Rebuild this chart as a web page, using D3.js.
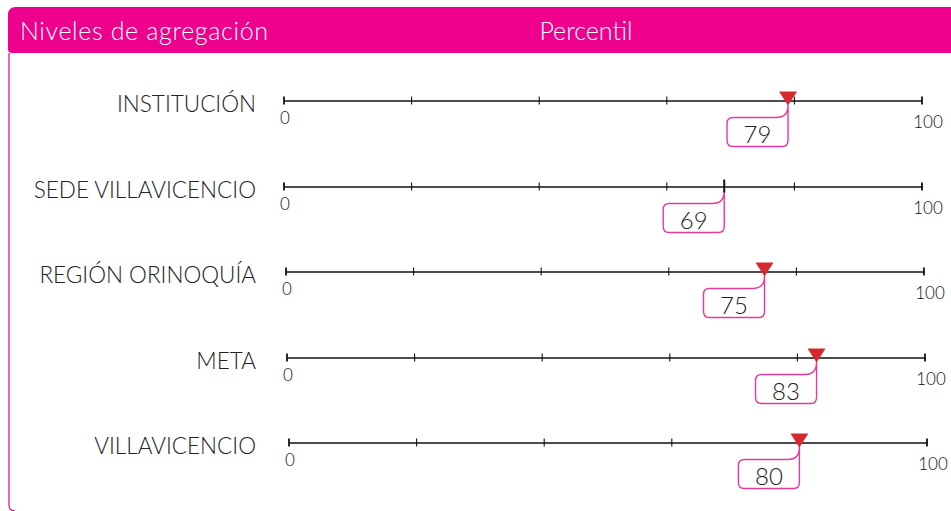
<!DOCTYPE html>
<meta charset="utf-8">
<head>
<style>
  body { margin: 0; background: #fff; }
  svg { display: block; font-family: "Lato", "Open Sans", sans-serif; }
  .lbl { font-size: 22.5px; fill: #222; font-weight: 300; }
  .end { font-size: 17px; fill: #111; font-weight: 300; }
  .num { font-size: 24px; fill: #222; font-weight: 300; }
</style>
</head>
<body>
<script src="https://d3js.org/d3.v7.min.js"></script>
<script>

// data
var niveles = ["INSTITUCIÓN", "SEDE VILLAVICENCIO", "REGIÓN ORINOQUÍA", "META", "VILLAVICENCIO"];
var percentil = [79, 69, 75, 83, 80];
var conTriangulo = [true, false, true, true, true];
var ticks = [0, 20, 40, 60, 80, 100];
var titulos = ["Niveles de agregación", "Percentil"];

var width = 951, height = 511;
var pink = "#ec008c";

var svg = d3.select("body").append("svg")
    .attr("width", width)
    .attr("height", height);

// frame: thin line down the left + header band
svg.append("path")
    .attr("d", "M9,53 L9,505 Q9,511 15,511")
    .attr("fill", "none")
    .attr("stroke", pink)
    .attr("stroke-width", 1.2);

svg.append("path")
    .attr("d", "M8,15 Q8,7 16,7 L951,7 L951,53 L12,53 Q8,53 8,49 Z")
    .attr("fill", pink);

svg.append("text")
    .attr("x", 20).attr("y", 40)
    .attr("fill", "#fff")
    .attr("textLength", 248)
    .style("font-size", "25px").style("font-weight", 300)
    .text(titulos[0]);

svg.append("text")
    .attr("x", 586).attr("y", 40)
    .attr("fill", "#fff")
    .attr("text-anchor", "middle")
    .style("font-size", "25px").style("font-weight", 300)
    .text(titulos[1]);

// scales
var y = d3.scalePoint().domain(niveles).range([100, 442]);
var x = d3.scaleLinear().domain([0, 100]).range([284, 922]);
var rowShift = [0, 0, 2, 3, 5];

niveles.forEach(function(n, i) {
  var yy = Math.round(y(n)) + 0.5;
  var g = svg.append("g").attr("transform", "translate(" + rowShift[i] + "," + yy + ")");

  svg.append("text")
      .attr("class", "lbl")
      .attr("x", 256)
      .attr("y", yy + 11)
      .attr("text-anchor", "end")
      .text(n);

  var axis = d3.axisBottom(x)
      .tickValues(ticks)
      .tickSize(0)
      .tickFormat("");
  var ag = g.append("g").call(axis);
  ag.select(".domain").attr("stroke", "#111").attr("stroke-width", 1.5);

  g.selectAll("line.tk")
      .data(ticks)
    .enter().append("line")
      .attr("class", "tk")
      .attr("x1", function(d) { return x(d); })
      .attr("x2", function(d) { return x(d); })
      .attr("y1", -4).attr("y2", 4)
      .attr("stroke", "#111")
      .attr("stroke-width", function(d) { return (d == 0 || d == 100) ? 1.8 : 1.1; });

  g.append("text").attr("class", "end")
      .attr("x", x(0) + 1).attr("y", 23)
      .attr("text-anchor", "middle").text("0");
  g.append("text").attr("class", "end")
      .attr("x", x(100) + 6).attr("y", 27)
      .attr("text-anchor", "middle").text("100");

  var px = x(percentil[i]);
  var top = 17, bot = 46, w = 61, r = 6, r2 = 12;

  // callout
  var p = d3.path();
  p.moveTo(px, 4);
  p.lineTo(px, bot - r);
  p.quadraticCurveTo(px, bot, px - r, bot);
  p.lineTo(px - w + r, bot);
  p.quadraticCurveTo(px - w, bot, px - w, bot - r);
  p.lineTo(px - w, top + r);
  p.quadraticCurveTo(px - w, top, px - w + r, top);
  p.lineTo(px - r2, top);
  p.quadraticCurveTo(px, top, px, top - r2);
  g.append("path")
      .attr("d", p.toString())
      .attr("fill", "none")
      .attr("stroke", "#e8389a")
      .attr("stroke-width", 1.4);

  g.append("text").attr("class", "num")
      .attr("x", px - w / 2).attr("y", 42)
      .attr("text-anchor", "middle")
      .text(percentil[i]);

  if (conTriangulo[i]) {
    g.append("path")
        .attr("d", "M" + (px - 9) + ",-9 L" + (px + 9) + ",-9 L" + px + ",5 Z")
        .attr("fill", "#d7282f");
  } else {
    g.append("line")
        .attr("x1", px).attr("x2", px)
        .attr("y1", -7).attr("y2", 6)
        .attr("stroke", "#111").attr("stroke-width", 2);
  }
});

</script>
</body>
